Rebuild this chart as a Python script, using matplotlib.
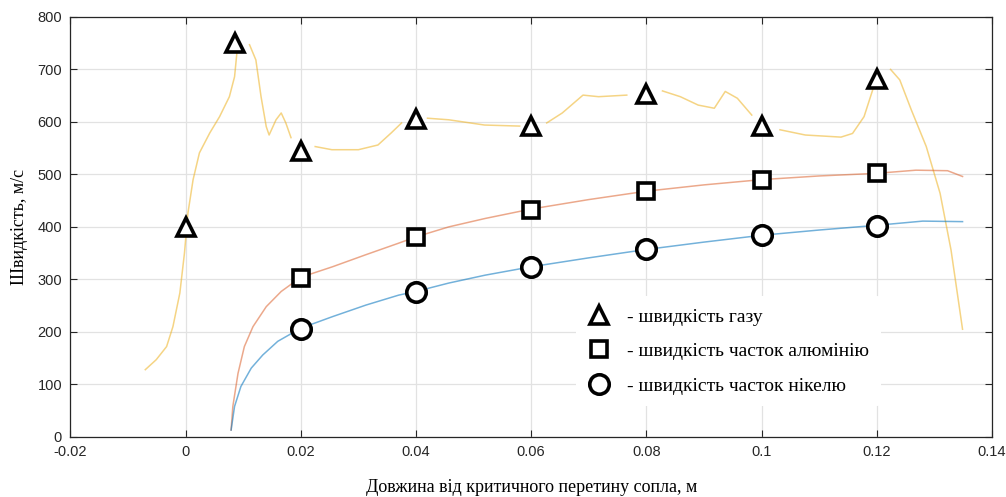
import numpy as np
import matplotlib
matplotlib.use("Agg")
from matplotlib import pyplot as plt
from matplotlib.lines import Line2D

nan = np.nan

# gas velocity trace (breaks where the original line is interrupted by markers)
gas_x = [-0.007, -0.0051, -0.0033, -0.0022, -0.001, -0.0002, 0.0004, 0.0013, 0.0024, 0.0042, 0.0059,
         0.0076, 0.0085, 0.0089, nan,
         0.0111, 0.0122, 0.0131, 0.014, 0.0145, 0.0157, 0.0166, 0.0174, 0.0183, nan,
         0.0225, 0.0254, 0.030, 0.0334, 0.0357, 0.0375, nan,
         0.042, 0.0457, 0.0519, 0.058, nan,
         0.0627, 0.0654, 0.069, 0.0717, 0.0766, nan,
         0.0828, 0.0859, 0.089, 0.0918, 0.0937, 0.0958, 0.0983, nan,
         0.1032, 0.1076, 0.1138, 0.1158, 0.1178, 0.1193, nan,
         0.1224, 0.124, 0.126, 0.1286, 0.131, 0.1329, 0.1349]
gas_y = [128, 147, 172, 210, 274, 350, 426, 490, 541, 579, 610,
         648, 686, 731, nan,
         747, 718, 648, 591, 575, 604, 617, 598, 570, nan,
         553, 547, 547, 556, 579, 598, nan,
         607, 604, 594, 592, nan,
         598, 617, 651, 648, 651, nan,
         659, 648, 632, 626, 658, 645, 613, nan,
         585, 575, 571, 578, 610, 661, nan,
         700, 680, 623, 553, 464, 356, 205]

al_x = [0.0079, 0.0082, 0.0091, 0.0102, 0.0117, 0.014, 0.0166, 0.02, 0.0255, 0.0313, 0.037, 0.04, 0.0457,
        0.052, 0.06, 0.07, 0.08, 0.09, 0.1, 0.11, 0.12, 0.1268, 0.1323, 0.1349]
al_y = [13, 58, 121, 172, 210, 248, 277, 304, 324, 347, 369, 381, 400,
        416, 434, 452, 468, 480, 490, 497, 502, 508, 507, 496]

ni_x = [0.0079, 0.0085, 0.0096, 0.0114, 0.0134, 0.016, 0.02, 0.0255, 0.0313, 0.037, 0.04, 0.0457,
        0.052, 0.06, 0.07, 0.08, 0.09, 0.1, 0.11, 0.12, 0.128, 0.1349]
ni_y = [13, 58, 96, 131, 156, 182, 207, 229, 251, 270, 277, 293,
        308, 324, 341, 357, 371, 384, 394, 403, 411, 410]

gas_mx = [0, 0.0085, 0.02, 0.04, 0.06, 0.08, 0.1, 0.12]
gas_my = [400, 750, 545, 605, 592, 653, 592, 681]
al_mx = [0.02, 0.04, 0.06, 0.08, 0.1, 0.12]
al_my = [303, 381, 433, 468, 490, 502]
ni_mx = [0.02, 0.04, 0.06, 0.08, 0.1, 0.12]
ni_my = [206, 276, 323, 357, 384, 402]

labels = ["- швидкість газу", "- швидкість часток алюмінію", "- швидкість часток нікелю"]
xticks = [-0.02, 0, 0.02, 0.04, 0.06, 0.08, 0.1, 0.12, 0.14]
xticklabels = ["-0.02", "0", "0.02", "0.04", "0.06", "0.08", "0.1", "0.12", "0.14"]
yticks = list(range(0, 801, 100))

fig = plt.figure(figsize=(10.06, 4.97), dpi=100)
ax = fig.add_axes([0.070, 0.121, 0.916, 0.845])

ax.plot(gas_x, gas_y, color="#EDB120", lw=1.1, alpha=0.55, zorder=2)
ax.plot(al_x, al_y, color="#D95319", lw=1.1, alpha=0.5, zorder=2)
ax.plot(ni_x, ni_y, color="#0072BD", lw=1.1, alpha=0.55, zorder=2)

mk = dict(ls="none", mfc="white", mec="black", mew=2.6, zorder=4)
ax.plot(gas_mx, gas_my, marker="^", ms=13, **mk)
ax.plot(al_mx, al_my, marker="s", ms=12, **mk)
ax.plot(ni_mx, ni_my, marker="o", ms=14, **mk)

ax.set_xlim(-0.02, 0.14)
ax.set_ylim(0, 800)
ax.set_xticks(xticks)
ax.set_xticklabels(xticklabels)
ax.set_yticks(yticks)
ax.grid(True, color="#e2e2e2", lw=0.9)
ax.set_axisbelow(True)
ax.tick_params(direction="in", top=True, right=True, length=5, colors="#262626",
               labelsize=10.5, pad=6)
for lab in ax.get_xticklabels() + ax.get_yticklabels():
    lab.set_family(["Liberation Sans Narrow", "Liberation Sans", "DejaVu Sans"])
for s in ax.spines.values():
    s.set_color("#262626")
    s.set_linewidth(0.9)

serif = ["Liberation Serif", "DejaVu Serif"]
ax.set_xlabel("Довжина від критичного перетину сопла, м", family=serif, fontsize=13, labelpad=14)
ax.set_ylabel("Швидкість, м/с", family=serif, fontsize=13, labelpad=7)

handles = [Line2D([], [], marker=m, ms=s, **mk) for m, s in [("^", 13), ("s", 12), ("o", 14)]]
leg = ax.legend(handles, labels, loc="upper left", bbox_to_anchor=(0.538, 0.358),
                frameon=True, edgecolor="none", facecolor="white", framealpha=1,
                prop={"family": serif, "size": 14}, handlelength=1.2, handletextpad=0.85,
                labelspacing=0.87, borderpad=0.6)
leg.set_zorder(5)

fig.savefig("out.png", dpi=100)
